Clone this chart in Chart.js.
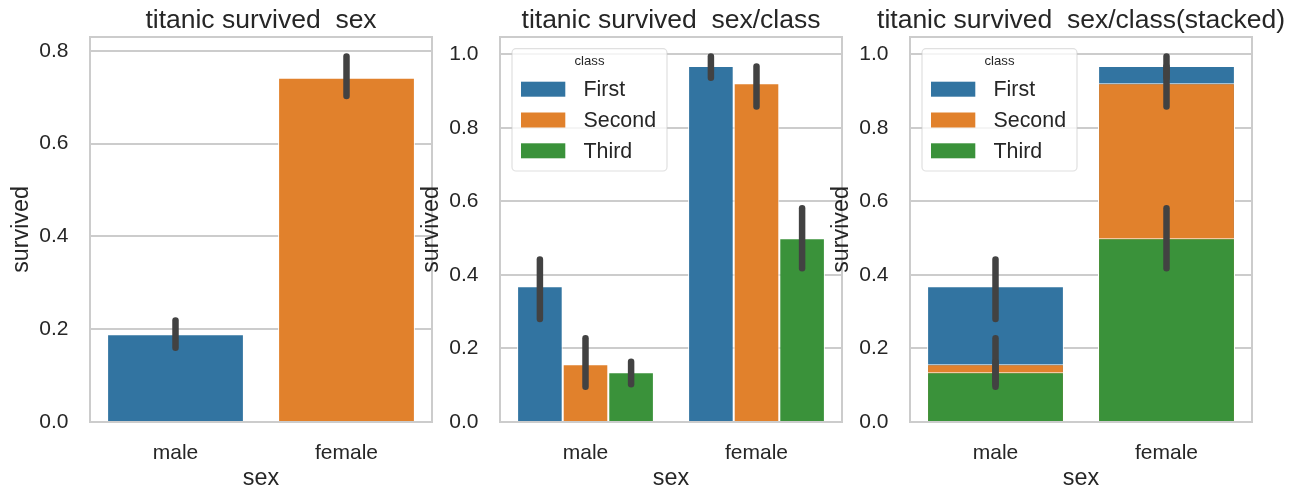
<!DOCTYPE html>
<html lang="en">
<head>
<meta charset="UTF-8">
<title>titanic survived</title>
<style>
  html, body { margin: 0; padding: 0; background: #fff; }
  .fig { position: relative; width: 1296px; height: 501px; overflow: hidden; }
  .panel { position: absolute; top: 0; height: 501px; }
</style>
</head>
<body>
<div class="fig">
  <div class="panel" style="left:0;width:440px"><canvas id="chart1"></canvas></div>
  <div class="panel" style="left:410px;width:440px"><canvas id="chart2"></canvas></div>
  <div class="panel" style="left:820px;width:476px"><canvas id="chart3"></canvas></div>
</div>

<script src="https://cdn.jsdelivr.net/npm/chart.js"></script>
<script>
  const sexLabels = ['male', 'female'];
  const classNames = ['First', 'Second', 'Third'];
  const colors = ['#3274a1', '#e1812c', '#3a923a'];

  // survival rate by sex (male, female) + 95% ci
  const sexRate = [0.189, 0.742];
  const sexLow = [0.160, 0.703];
  const sexHigh = [0.219, 0.788];

  // survival rate by sex and class (male, female)
  const firstRate = [0.369, 0.968];
  const secondRate = [0.157, 0.921];
  const thirdRate = [0.135, 0.500];
  const firstLow = [0.280, 0.936];
  const firstHigh = [0.442, 0.994];
  const secondLow = [0.096, 0.858];
  const secondHigh = [0.228, 0.967];
  const thirdLow = [0.103, 0.418];
  const thirdHigh = [0.164, 0.581];

  const yTicksStep = 0.2;
  const textColor = '#262626';
  const gridColor = '#cccccc';
  const fontFamily = "'Liberation Sans', Arial, sans-serif";

  Chart.defaults.font.family = fontFamily;
  Chart.defaults.color = textColor;
  Chart.defaults.animation = false;
  Chart.defaults.plugins.legend.display = false;
  Chart.defaults.plugins.tooltip.enabled = false;

  // axes frame on all four sides
  const frame = {
    id: 'frame',
    afterDatasetsDraw(chart) {
      const { ctx, chartArea: a } = chart;
      ctx.save();
      ctx.strokeStyle = gridColor;
      ctx.lineWidth = 2;
      ctx.strokeRect(a.left, a.top, a.right - a.left, a.bottom - a.top);
      ctx.restore();
    }
  };

  // vertical error bars at the bar centers
  const errorBars = {
    id: 'errorBars',
    afterDatasetsDraw(chart, args, opts) {
      const { ctx } = chart;
      const y = chart.scales.y;
      ctx.save();
      ctx.strokeStyle = '#424242';
      ctx.lineWidth = 6.5;
      ctx.lineCap = 'round';
      chart.data.datasets.forEach((ds, i) => {
        const meta = chart.getDatasetMeta(i);
        meta.data.forEach((bar, j) => {
          ctx.beginPath();
          ctx.moveTo(bar.x, y.getPixelForValue(opts.low[i][j]));
          ctx.lineTo(bar.x, y.getPixelForValue(opts.high[i][j]));
          ctx.stroke();
        });
      });
      ctx.restore();
    }
  };

  // title centred over the axes, allowed to run past them like matplotlib does
  const axTitle = {
    id: 'axTitle',
    afterDraw(chart, args, opts) {
      const { ctx, chartArea: a } = chart;
      ctx.save();
      ctx.font = '26.5px ' + fontFamily;
      ctx.fillStyle = textColor;
      ctx.textAlign = 'center';
      ctx.textBaseline = 'middle';
      ctx.fillText(opts.text, (a.left + a.right) / 2, a.top - 16);
      ctx.restore();
    }
  };

  // seaborn style legend box with a small title
  const classLegend = {
    id: 'classLegend',
    afterDraw(chart) {
      const { ctx, chartArea: a } = chart;
      const left = a.left + 12, top = a.top + 11.7, w = 155, h = 122.3;
      ctx.save();
      ctx.beginPath();
      ctx.roundRect(left, top, w, h, 4);
      ctx.fillStyle = 'rgba(255,255,255,0.8)';
      ctx.fill();
      ctx.strokeStyle = 'rgba(204,204,204,0.6)';
      ctx.lineWidth = 1.2;
      ctx.stroke();

      ctx.fillStyle = textColor;
      ctx.textAlign = 'center';
      ctx.textBaseline = 'middle';
      ctx.font = '13.2px ' + fontFamily;
      ctx.fillText('class', left + w / 2, top + 13);

      ctx.textAlign = 'left';
      ctx.font = '21.4px ' + fontFamily;
      chart.data.datasets.forEach((ds, i) => {
        const cy = top + 40.5 + i * 30.8;
        ctx.fillStyle = ds.backgroundColor;
        ctx.fillRect(left + 9, cy - 7.5, 44.3, 15);
        ctx.fillStyle = textColor;
        ctx.fillText(ds.label, left + 71.5, cy + 1);
      });
      ctx.restore();
    }
  };

  function yScale(max) {
    return {
      min: 0,
      max: max,
      ticks: {
        stepSize: yTicksStep, includeBounds: false, padding: 21.5,
        font: { size: 21 }, color: textColor,
        callback: v => v.toFixed(1)
      },
      grid: { color: gridColor, lineWidth: 2, drawTicks: false },
      border: { display: false },
      title: {
        display: true, text: 'survived', color: textColor,
        font: { size: 23.3 }, padding: { top: 7.5, bottom: 0 }
      },
      afterFit(s) { s.width = 90; }
    };
  }

  function xScale() {
    return {
      ticks: { padding: 19, font: { size: 21 }, color: textColor },
      grid: { display: false, drawTicks: false },
      border: { display: false },
      title: {
        display: true, text: 'sex', color: textColor,
        font: { size: 23.3 }, padding: { top: 0, bottom: 8 }
      },
      afterFit(s) { s.height = 79; }
    };
  }

  // 1. survived by sex
  new Chart(document.getElementById('chart1'), {
    type: 'bar',
    data: {
      labels: sexLabels,
      datasets: [{
        label: 'survived',
        data: sexRate,
        backgroundColor: [colors[0], colors[1]],
        borderColor: '#ffffff',
        borderWidth: 1,
        categoryPercentage: 1,
        barPercentage: 0.8
      }]
    },
    options: {
      responsive: true,
      maintainAspectRatio: false,
      layout: { padding: { left: 0, right: 8, top: 37, bottom: 0 } },
      scales: { x: xScale(), y: yScale(0.83) },
      plugins: {
        axTitle: { text: 'titanic survived  sex' },
        errorBars: { low: [sexLow], high: [sexHigh] }
      }
    },
    plugins: [frame, errorBars, axTitle]
  });

  // 2. survived by sex / class, dodged
  new Chart(document.getElementById('chart2'), {
    type: 'bar',
    data: {
      labels: sexLabels,
      datasets: [
        { label: classNames[0], data: firstRate, backgroundColor: colors[0] },
        { label: classNames[1], data: secondRate, backgroundColor: colors[1] },
        { label: classNames[2], data: thirdRate, backgroundColor: colors[2] }
      ]
    },
    options: {
      responsive: true,
      maintainAspectRatio: false,
      layout: { padding: { left: 0, right: 8, top: 37, bottom: 0 } },
      datasets: { bar: { categoryPercentage: 0.8, barPercentage: 1, borderColor: '#ffffff', borderWidth: 1 } },
      scales: { x: xScale(), y: yScale(1.047) },
      plugins: {
        axTitle: { text: 'titanic survived  sex/class' },
        errorBars: { low: [firstLow, secondLow, thirdLow], high: [firstHigh, secondHigh, thirdHigh] }
      }
    },
    plugins: [frame, errorBars, axTitle, classLegend]
  });

  // 3. survived by sex / class, bars overlapping at the same spot
  new Chart(document.getElementById('chart3'), {
    type: 'bar',
    data: {
      labels: sexLabels,
      datasets: [
        { label: classNames[0], data: firstRate, backgroundColor: colors[0], order: 2 },
        { label: classNames[1], data: secondRate, backgroundColor: colors[1], order: 1 },
        { label: classNames[2], data: thirdRate, backgroundColor: colors[2], order: 0 }
      ]
    },
    options: {
      responsive: true,
      maintainAspectRatio: false,
      layout: { padding: { left: 0, right: 44, top: 37, bottom: 0 } },
      datasets: { bar: { grouped: false, categoryPercentage: 1, barPercentage: 0.8, borderColor: '#ffffff', borderWidth: 1 } },
      scales: { x: xScale(), y: yScale(1.047) },
      plugins: {
        axTitle: { text: 'titanic survived  sex/class(stacked)' },
        errorBars: { low: [firstLow, secondLow, thirdLow], high: [firstHigh, secondHigh, thirdHigh] }
      }
    },
    plugins: [frame, errorBars, axTitle, classLegend]
  });
</script>
</body>
</html>
